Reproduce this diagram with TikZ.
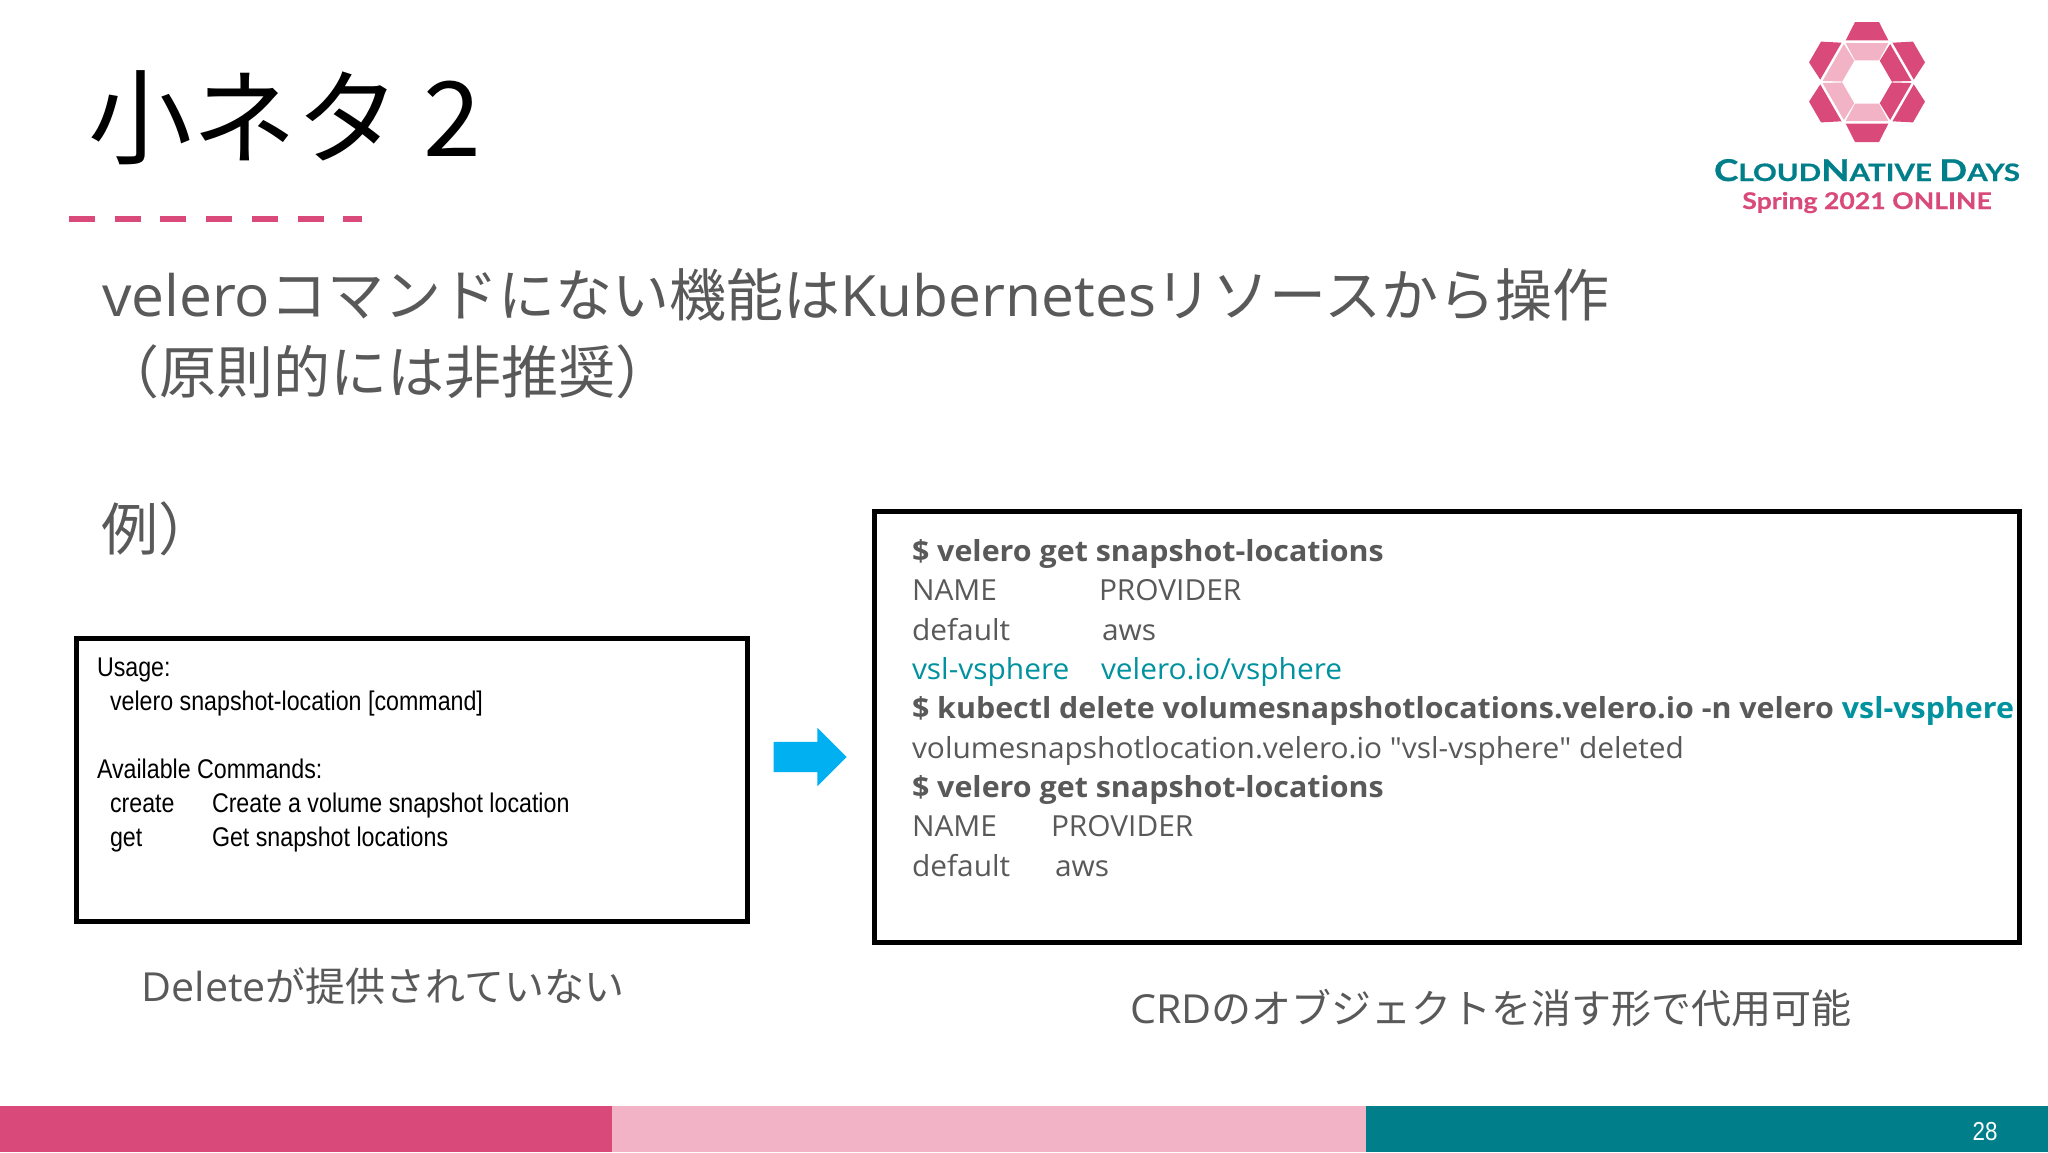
\documentclass[tikz,border=0pt]{standalone}
\usepackage{xcolor}
\usepackage{fontspec}
\usepackage{tikz}
\usetikzlibrary{positioning, shapes.arrows}
\setmainfont[FakeStretch=1.03, BoldFeatures={FakeStretch=1.048}]{Open Sans}
\newfontfamily\quotefont[FakeStretch=1.03]{Open Sans}
\newfontfamily\jpfont{Noto Sans CJK JP}
\newfontfamily\usagefont[FakeStretch=0.86]{Liberation Sans}
\newfontfamily\logonamefont[FakeStretch=1.23, FakeBold=0.6]{Lato}
\newfontfamily\logodatefont[FakeStretch=1.157, FakeBold=0.4]{Lato}
\definecolor{pagepink}{HTML}{D94A7B}
\definecolor{palepink}{HTML}{F2B3C6}
\definecolor{pageteal}{HTML}{007F8A}
\definecolor{codeteal}{HTML}{00929F}
\definecolor{textgray}{HTML}{595959}
\definecolor{arrowblue}{HTML}{00B0F0}
\newcommand{\fsz}[1]{\fontsize{#1}{#1}\selectfont}
\tikzset{
	every node/.style={inner sep=0, outer sep=0},
	bigtext/.style={anchor=base west, textgray, font=\fsz{57}},
	captext/.style={anchor=base, textgray, font=\fsz{40}},
	usagetext/.style={anchor=base west, black, font=\usagefont\fsz{27}},
	codetext/.style={anchor=base west, textgray, font=\fsz{29}},
	blackbox/.style={draw=black, line width=5.5, fill=white, rectangle},
}
\begin{document}
\begin{tikzpicture}[x=1pt, y=-1pt]
	\useasboundingbox (0,0) rectangle (2048,1152);
	\fill[white] (0,0) rectangle (2048,1152);
	\fill[pagepink] (0,1106) rectangle (612,1152);
	\fill[palepink] (612,1106) rectangle (1366,1152);
	\fill[pageteal] (1366,1106) rectangle (2048,1152);
	\node[anchor=base, white, font=\usagefont\fsz{26}] (pagenum) at (1985,1140) {28};

	\node[anchor=base west, black, font=\jpfont\fsz{104}] (title) at (88,156) {小ネタ 2};
	\draw[pagepink, line width=6, dash pattern=on 26 off 19.7] (69,219) -- (362,219);

	\node[bigtext] (line1) at (102,316) {velero{\jpfont コマンドにない機能は}Kubernetes{\jpfont リソースから操作}};
	\node[bigtext] (line2) at (102,393) {\jpfont （原則的には非推奨）};
	\node[bigtext] (line3) at (101,550) {\jpfont 例）};

	\node[blackbox, minimum width=671, minimum height=283] (usagebox) at (412,780) {};
	\node[usagetext] (u1) at (97,676) {Usage:};
	\node[usagetext] (u2) at (110,710) {velero snapshot-location [command]};
	\node[usagetext] (u3) at (97,778) {Available Commands:};
	\node[usagetext] (u4) at (110,812) {create};
	\node[usagetext] (u5) at (212,812) {Create a volume snapshot location};
	\node[usagetext] (u6) at (110,846) {get};
	\node[usagetext] (u7) at (212,846) {Get snapshot locations};
	\node[captext] (ucap) at (383,1001) {Delete{\jpfont が提供されていない}};

	\node[single arrow, fill=arrowblue, inner ysep=15, minimum width=58, minimum height=73, single arrow head extend=14] (nextarrow) at (802.5,757) {};

	\node[blackbox, minimum width=1145, minimum height=431] (codebox) at (1447,727) {};
	\node[codetext, font=\bfseries\fsz{29}] (c1) at (912,561) {\$ velero get snapshot-locations};
	\node[codetext] (c2) at (912,600) {NAME};
	\node[codetext] (c2b) at (1099,600) {PROVIDER};
	\node[codetext] (c3) at (912,640) {default};
	\node[codetext] (c3b) at (1102,640) {aws};
	\node[codetext, codeteal] (c4) at (912,679) {vsl-vsphere};
	\node[codetext, codeteal] (c4b) at (1101,679) {velero.io/vsphere};
	\node[codetext, font=\bfseries\fsz{29}] (c5) at (912,718) {\$ kubectl delete volumesnapshotlocations.velero.io -n velero {\color{codeteal}vsl-vsphere}};
	\node[codetext] (c6) at (912,758) {volumesnapshotlocation.velero.io {\quotefont\char34}vsl-vsphere{\quotefont\char34} deleted};
	\node[codetext, font=\bfseries\fsz{29}] (c7) at (912,797) {\$ velero get snapshot-locations};
	\node[codetext] (c8) at (912,836) {NAME};
	\node[codetext] (c8b) at (1051,836) {PROVIDER};
	\node[codetext] (c9) at (912,876) {default};
	\node[codetext] (c9b) at (1055,876) {aws};
	\node[captext] (ccap) at (1491,1023) {CRD{\jpfont のオブジェクトを消す形で代用可能}};

	\begin{scope}[shift={(1867,82)}]
		\foreach \ang/\inner in {0/palepink, 60/palepink, 120/palepink, 180/palepink, 240/pagepink, 300/pagepink} {
			\fill[pagepink, rotate=\ang] (-12,-60) -- (12,-60) -- (21.3,-41.7) -- (-21.3,-41.7) -- cycle;
			\fill[\inner, rotate=\ang] (-21.3,-39) -- (21.3,-39) -- (12,-21.7) -- (-12,-21.7) -- cycle;
		}
	\end{scope}
	\node[anchor=base, pageteal, font=\logonamefont\bfseries] (logoname) at (1867,181) {\fsz{30}C\fsz{24}LOUD\fsz{30}N\fsz{24}ATIVE \fsz{30}D\fsz{24}AYS};
	\node[anchor=base, pagepink, font=\logodatefont\bfseries\fsz{23}] (logodate) at (1867,209) {Spring 2021 ONLINE};
\end{tikzpicture}
\end{document}
